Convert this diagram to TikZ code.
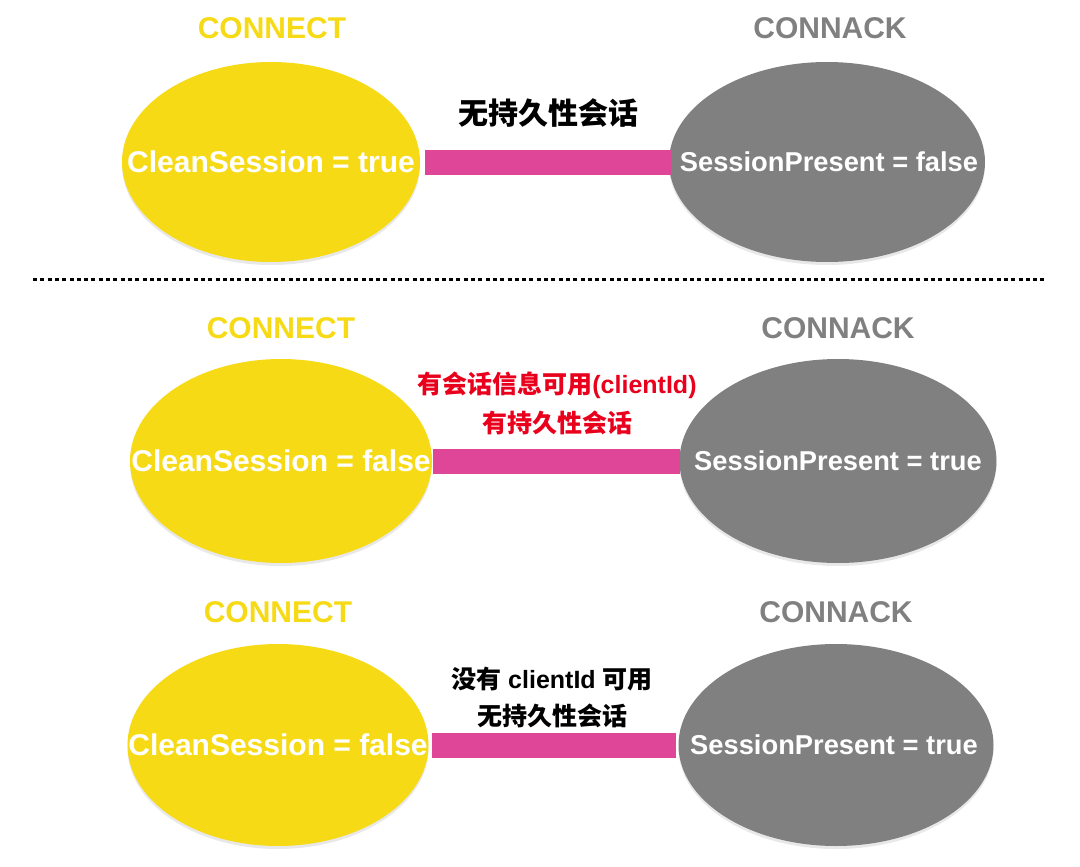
\documentclass[tikz,border=0pt]{standalone}
\usepackage{fontspec}
\setmainfont{Liberation Sans}
\newfontfamily\cjk{Noto Sans CJK SC}
\usetikzlibrary{shapes.geometric,shadows}
\definecolor{cyellow}{RGB}{247,218,22}
\definecolor{cgray}{RGB}{128,128,128}
\definecolor{cpink}{RGB}{224,70,152}
\definecolor{cred}{RGB}{232,0,28}
\begin{document}
\begin{tikzpicture}[x=1pt,y=-1pt,
  yell/.style={ellipse,fill=cyellow,inner sep=0pt,
    drop shadow={opacity=0.18,shadow xshift=0pt,shadow yshift=-3pt}},
  gry/.style={ellipse,fill=cgray,inner sep=0pt,
    drop shadow={opacity=0.18,shadow xshift=0pt,shadow yshift=-3pt}},
  intext/.style={text=white,font=\fontsize{30}{34}\selectfont\bfseries,inner sep=0pt},
  intextg/.style={text=white,font=\fontsize{27.3}{32}\selectfont\bfseries,inner sep=0pt},
  ttlY/.style={text=cyellow,font=\fontsize{30}{34}\selectfont\bfseries,inner sep=0pt},
  ttlG/.style={text=cgray,font=\fontsize{30}{34}\selectfont\bfseries,inner sep=0pt},
  bar/.style={draw=cpink,line width=25pt},
  lblbig/.style={font=\fontsize{30}{34}\selectfont\bfseries\cjk,inner sep=0pt},
  lbl/.style={font=\fontsize{25}{30}\selectfont\bfseries,inner sep=0pt,align=center}
]
\useasboundingbox (0,0) rectangle (1080,867);

% Row 1
\node[ttlY] (t1a) at (272,28) {CONNECT};
\node[ttlG] (t1b) at (830,28) {CONNACK};
\node[yell,minimum width=298pt,minimum height=200pt] (y1) at (271,162) {};
\node[gry,minimum width=316pt,minimum height=200pt] (g1) at (827,162) {};
\node[intext] (y1t) at (y1.center) {CleanSession = true};
\node[intextg] (g1t) at (829,162) {SessionPresent = false};
\draw[bar,shorten <=5pt,shorten >=-2pt] (y1) -- (g1);
\node[lblbig] (l1) at (548,113) {无持久性会话};

% divider
\coordinate (dA) at (33,279);
\coordinate (dB) at (1047,279);
\draw[line width=3pt,dash pattern=on 4pt off 3.3pt] (dA) -- (dB);

% Row 2
\node[ttlY] (t2a) at (281,328) {CONNECT};
\node[ttlG] (t2b) at (838,328) {CONNACK};
\node[yell,minimum width=302pt,minimum height=204pt] (y2) at (281,461) {};
\node[gry,minimum width=317pt,minimum height=204pt] (g2) at (838,461) {};
\node[intext] (y2t) at (y2.center) {CleanSession = false};
\node[intextg] (g2t) at (g2.center) {SessionPresent = true};
\draw[bar,shorten <=1pt,shorten >=-1pt] (y2) -- (g2);
\node[lbl,text=cred] (l2a) at (557,385) {{\cjk 有会话信息可用}(clientId)};
\node[lbl,text=cred] (l2b) at (557,423) {\cjk 有持久性会话};

% Row 3
\node[ttlY] (t3a) at (278,612) {CONNECT};
\node[ttlG] (t3b) at (836,612) {CONNACK};
\node[yell,minimum width=301pt,minimum height=202pt] (y3) at (278,745) {};
\node[gry,minimum width=315pt,minimum height=202pt] (g3) at (836,745) {};
\node[intext] (y3t) at (y3.center) {CleanSession = false};
\node[intextg] (g3t) at (834,745) {SessionPresent = true};
\draw[bar,shorten <=3pt,shorten >=2pt] (y3) -- (g3);
\node[lbl] (l3a) at (552,679) {{\cjk 没有} clientId {\cjk 可用}};
\node[lbl] (l3b) at (552,716) {\cjk 无持久性会话};
\end{tikzpicture}
\end{document}
